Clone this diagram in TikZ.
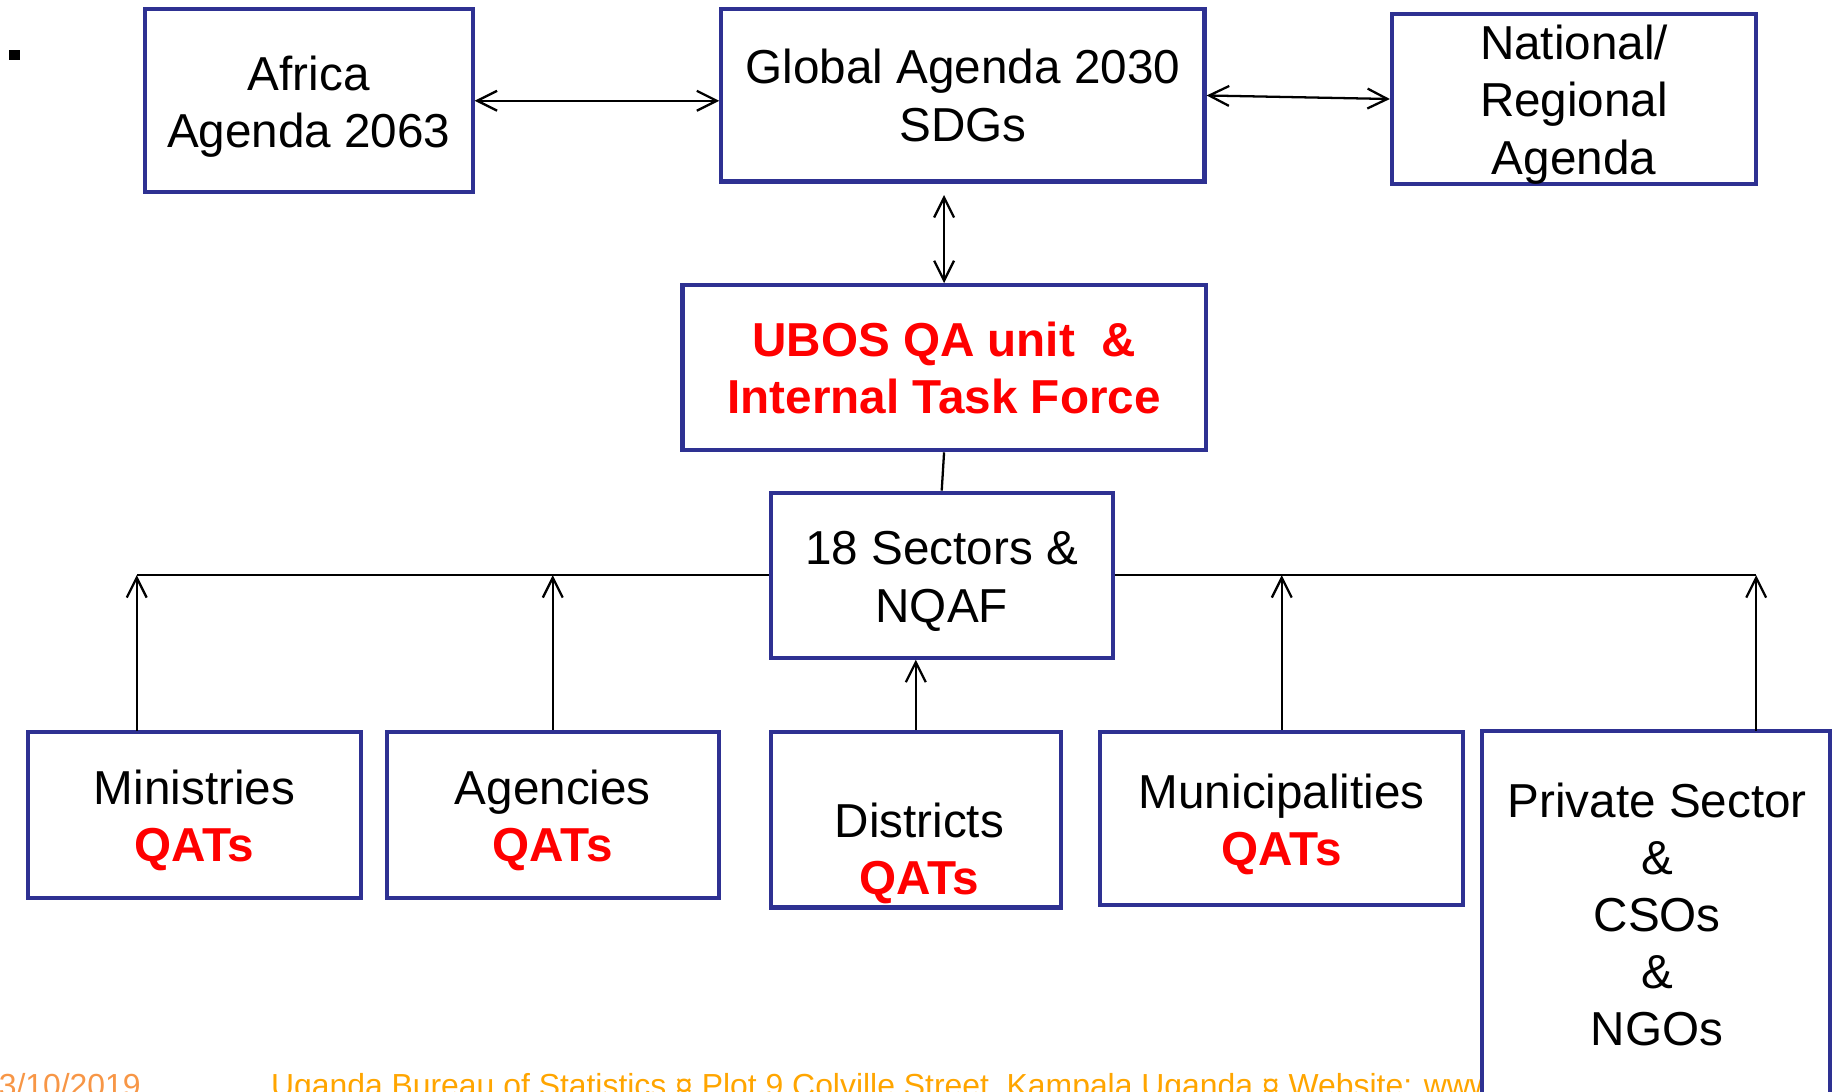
\documentclass[tikz,border=0pt]{standalone}
\usepackage{fontspec}
\setmainfont{Liberation Sans}
\usetikzlibrary{arrows.meta}
\definecolor{boxblue}{RGB}{46,49,146}
\definecolor{qared}{RGB}{255,0,0}
\definecolor{datecol}{RGB}{247,150,70}
\definecolor{footcol}{RGB}{255,165,0}
\newcommand{\agfont}{\fontsize{11.5}{13.8}\selectfont}
\newcommand{\qats}[1]{{\bfseries\color{qared}#1}}
\newcommand{\lowr}{\rule{0pt}{11pt}}
\tikzset{
  agbox/.style={draw=boxblue, line width=1pt, fill=white, align=center, inner sep=0pt, font=\agfont},
  agtxt/.style={align=center, inner sep=0pt, font=\agfont},
  foot/.style={anchor=base west, inner sep=0pt, font=\fontsize{7.7}{9}\selectfont}
}
\begin{document}
\begin{tikzpicture}[>={Straight Barb[length=4.8pt,width=4.8pt]}, line width=0.55pt]
            \useasboundingbox (0,0) rectangle (15.62,-9.265);
            % Marcador
            \fill (0.075,-0.42) rectangle (0.17,-0.51);

            % Rodape
            \node[foot, text=datecol] (date) at (-0.02,-9.30) {3/10/2019};
            \node[foot, text=footcol] (footer) at (2.29,-9.30) {Uganda Bureau of Statistics ¤ Plot 9 Colville Street, Kampala Uganda ¤ Website: www};

            % Agendas
            \node[agbox, minimum width=2.78cm, minimum height=1.55cm] (africa) at (2.62,-0.855) {\lowr Africa\\Agenda 2063};
            \node[agbox, minimum width=4.10cm, minimum height=1.46cm] (global) at (8.17,-0.81) {Global Agenda 2030\\SDGs};
            \node[agbox, minimum width=3.09cm, minimum height=1.40cm] (national) at (13.355,-0.84) {\lowr National/\\Regional\\Agenda};

            % UBOS e Setores
            \node[agbox, minimum width=4.44cm, minimum height=1.40cm, font=\agfont\bfseries, text=qared] (ubos) at (8.01,-3.12) {UBOS QA unit~~\&\\Internal Task Force};
            \node[agbox, minimum width=2.90cm, minimum height=1.40cm] (sectors) at (7.99,-4.88) {\lowr 18 Sectors \&\\NQAF};

            % QATs
            \node[agbox, minimum width=2.82cm, minimum height=1.41cm] (ministries) at (1.65,-6.915) {\lowr Ministries\\\qats{QATs}};
            \node[agbox, minimum width=2.82cm, minimum height=1.41cm] (agencies) at (4.69,-6.915) {\lowr Agencies\\\qats{QATs}};
            \node[agbox, minimum width=2.46cm, minimum height=1.49cm] (districts) at (7.77,-6.955) {};
            \node[agtxt] (districtsTxt) at (7.80,-7.24) {Districts\\\qats{QATs}};
            \node[agbox, minimum width=3.08cm, minimum height=1.47cm] (municipal) at (10.875,-6.945) {\lowr Municipalities\\\qats{QATs}};
            \node[agbox, minimum width=2.95cm, minimum height=3.30cm] (private) at (14.05,-7.85) {};
            \node[agtxt, anchor=north] (privateTxt) at (14.06,-6.63) {Private Sector\\\&\\CSOs\\\&\\NGOs};

            % Ligacoes de topo
            \coordinate (gbot) at (8.01,-1.655);
            \draw[<->] (africa.east) -- (africa.east -| global.west);
            \draw[<->] (global.east) -- (national.west);
            \draw[<->] (gbot) -- (ubos.north);
            \draw (ubos.south) -- (sectors.north);

            % Barramento dos QATs
            \coordinate (mtop) at (1.16,-6.20);
            \coordinate (ptop) at (14.90,-6.20);
            \draw (sectors.west) -- (mtop |- sectors.west);
            \draw (sectors.east) -- (ptop |- sectors.east);
            \draw[->] (mtop) -- (mtop |- sectors.west);
            \draw[->] (agencies.north) -- (agencies.north |- sectors.west);
            \draw[->] (districts.north) -- (districts.north |- sectors.south);
            \draw[->] (municipal.north) -- (municipal.north |- sectors.east);
            \draw[->] (ptop) -- (ptop |- sectors.east);
        \end{tikzpicture}
\end{document}
